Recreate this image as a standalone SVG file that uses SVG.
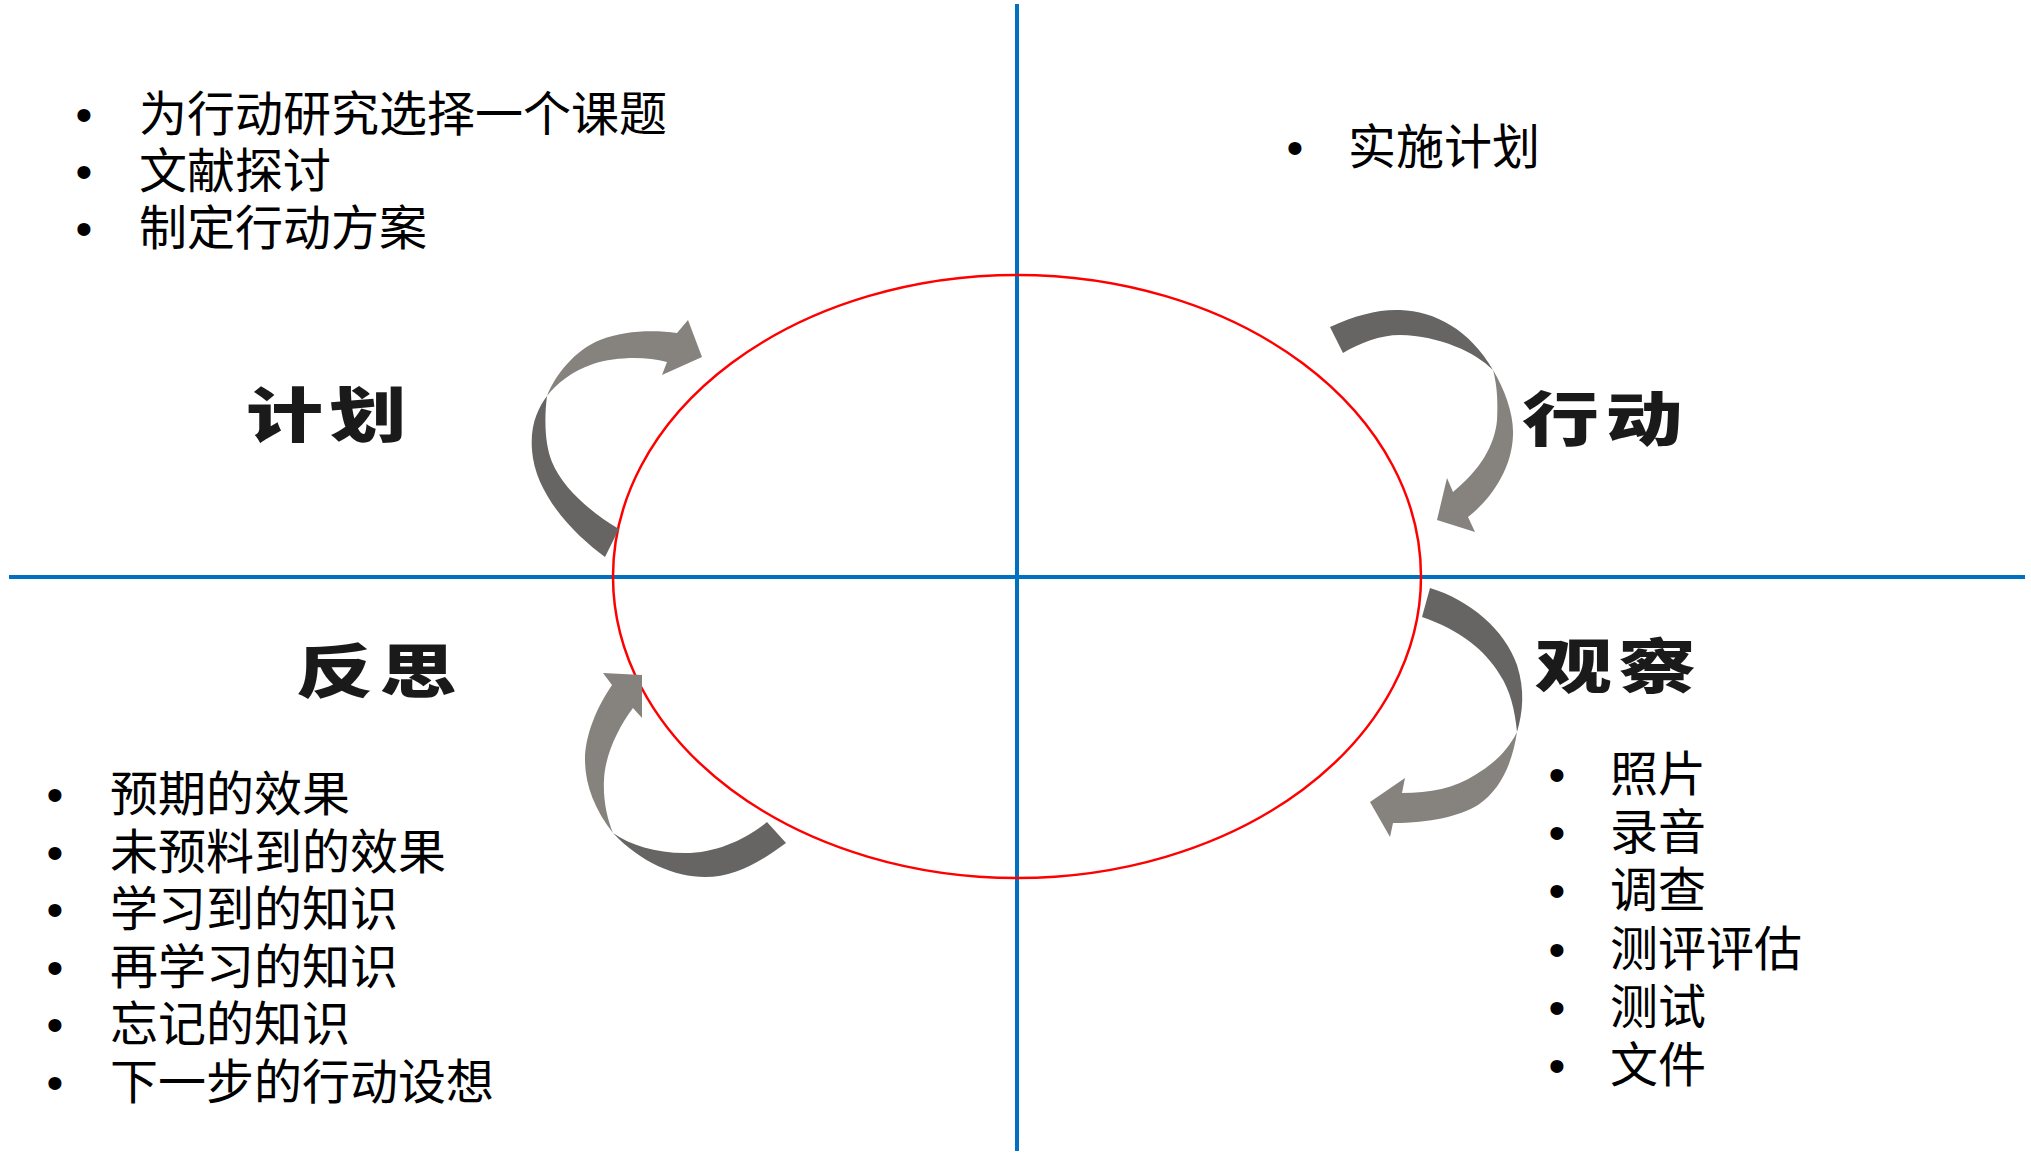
<svg xmlns="http://www.w3.org/2000/svg" width="2031" height="1153" viewBox="0 0 2031 1153">
<style>
.axis{stroke:#0070C0;stroke-width:4;fill:none}
.ring{stroke:#FF0000;stroke-width:2.5;fill:none}
.dark{fill:#676563}
.light{fill:#86837f}
.item{font-family:"Noto Sans CJK SC","Noto Sans CJK JP",sans-serif;font-size:48px;fill:#000}
.bul{font-family:"Liberation Sans",Arial,sans-serif;font-size:48px;fill:#000;text-anchor:middle}
.lab{font-family:"Noto Sans CJK SC","Noto Sans CJK JP",sans-serif;font-size:70px;font-weight:900;fill:#1a1a1a;letter-spacing:6px}
</style>
<rect width="2031" height="1153" fill="#fff"/>
<g id="connectors">
  <line class="axis" x1="1017" y1="4" x2="1017" y2="1151"/>
  <line class="axis" x1="9" y1="577" x2="2025" y2="577"/>
  <ellipse class="ring" cx="1017" cy="576.5" rx="404" ry="301.5"/>
  <g id="arrow-plan">
    <path class="dark" d="M605,557 C575,535 535,495 532,450 C530,425 538,408 547,396 C544,420 545,445 552,462 C562,487 590,512 619,529 Z"/>
    <path class="light" d="M547,396 C555,375 575,350 600,340 C625,330 655,330 677,333 L688,320 L702,357 L662,375 L667,362 C645,356 615,357 593,364 C572,371 556,384 547,396 Z"/>
  </g>
  <g id="arrow-act">
    <path class="dark" d="M1330,327 C1355,315 1380,309 1400,310 C1435,311 1470,330 1493,370 C1475,352 1440,336 1400,335 C1380,335 1360,343 1343,353 Z"/>
    <path class="light" d="M1493,370 C1505,390 1514,415 1513,435 C1512,470 1490,500 1468,517 L1475,532 L1437,520 L1447,478 L1453,492 C1480,470 1495,445 1497,420 C1498,400 1497,385 1493,370 Z"/>
  </g>
  <g id="arrow-observe">
    <path class="dark" d="M1430,588 C1470,600 1505,630 1517,665 C1525,690 1523,712 1517,732 C1515,710 1510,690 1500,675 C1485,650 1460,630 1422,617 Z"/>
    <path class="light" d="M1517,732 C1512,765 1500,790 1478,805 C1460,816 1430,823 1393,823 L1390,837 L1370,802 L1405,778 L1402,793 C1430,793 1455,788 1475,775 C1495,763 1508,750 1517,732 Z"/>
  </g>
  <g id="arrow-reflect">
    <path class="dark" d="M786,843 C760,862 735,877 705,877 C675,877 640,862 613,833 C630,845 655,853 685,853 C715,853 745,840 767,822 Z"/>
    <path class="light" d="M613,833 C595,810 585,785 585,760 C585,735 597,707 612,685 L603,673 L642,675 L642,718 L633,708 C618,728 605,755 604,780 C603,800 607,818 613,833 Z"/>
  </g>
</g>
<g id="node-plan">
  <text class="lab" transform="translate(246,437) scale(1.1,0.85)" letter-spacing="12">计划</text>
  <text class="bul" x="84" y="131">•</text><text class="item" x="139" y="131">为行动研究选择一个课题</text>
  <text class="bul" x="84" y="188">•</text><text class="item" x="139" y="188">文献探讨</text>
  <text class="bul" x="84" y="245">•</text><text class="item" x="139" y="245">制定行动方案</text>
</g>
<g id="node-act">
  <text class="lab" transform="translate(1522,441) scale(1.1,0.85)">行动</text>
  <text class="bul" x="1295" y="164">•</text><text class="item" x="1348" y="164">实施计划</text>
</g>
<g id="node-observe">
  <text class="lab" transform="translate(1535,688) scale(1.1,0.85)">观察</text>
  <text class="bul" x="1557" y="791">•</text><text class="item" x="1610" y="791">照片</text>
  <text class="bul" x="1557" y="849">•</text><text class="item" x="1610" y="849">录音</text>
  <text class="bul" x="1557" y="907">•</text><text class="item" x="1610" y="907">调查</text>
  <text class="bul" x="1557" y="966">•</text><text class="item" x="1610" y="966">测评评估</text>
  <text class="bul" x="1557" y="1024">•</text><text class="item" x="1610" y="1024">测试</text>
  <text class="bul" x="1557" y="1082">•</text><text class="item" x="1610" y="1082">文件</text>
</g>
<g id="node-reflect">
  <text class="lab" transform="translate(296,693) scale(1.1,0.85)">反思</text>
  <text class="bul" x="55" y="811">•</text><text class="item" x="110" y="811">预期的效果</text>
  <text class="bul" x="55" y="869">•</text><text class="item" x="110" y="869">未预料到的效果</text>
  <text class="bul" x="55" y="926">•</text><text class="item" x="110" y="926">学习到的知识</text>
  <text class="bul" x="55" y="984">•</text><text class="item" x="110" y="984">再学习的知识</text>
  <text class="bul" x="55" y="1041">•</text><text class="item" x="110" y="1041">忘记的知识</text>
  <text class="bul" x="55" y="1099">•</text><text class="item" x="110" y="1099">下一步的行动设想</text>
</g>
</svg>
